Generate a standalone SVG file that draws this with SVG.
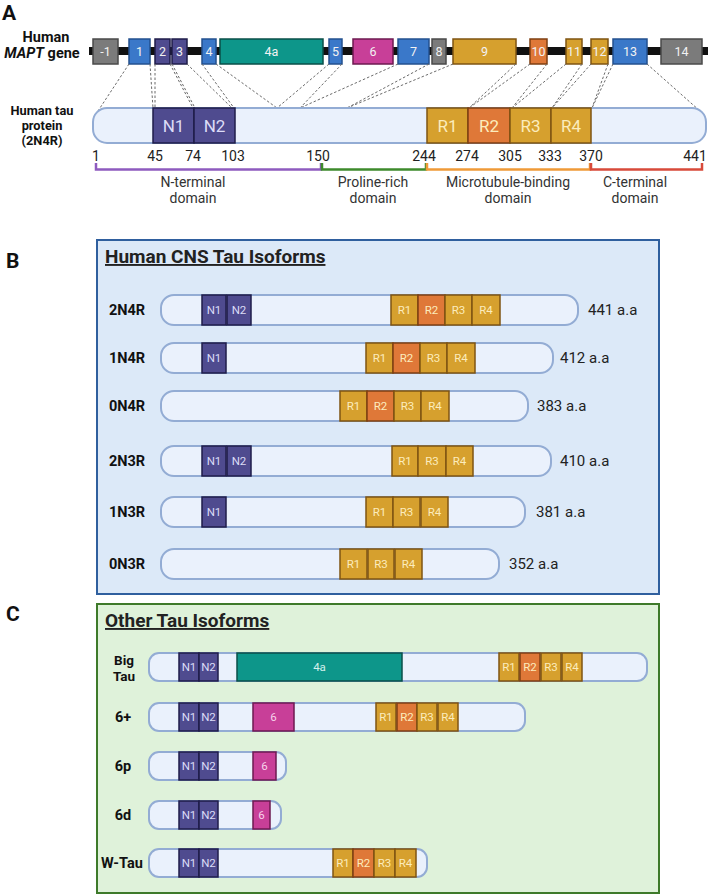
<svg xmlns="http://www.w3.org/2000/svg" width="708" height="895" viewBox="0 0 708 895">
<style>
text{font-family:Roboto,"Liberation Sans",sans-serif;}
.pl{font-weight:bold;font-size:21px;fill:#111;}
.lb{font-weight:bold;font-size:14.5px;fill:#111;}
.lbs{font-weight:bold;font-size:13.5px;fill:#111;text-anchor:middle;}
.lbp{font-weight:bold;font-size:12.8px;fill:#111;text-anchor:middle;}
.num{font-size:14px;fill:#222;text-anchor:middle;}
.dom{font-size:14px;fill:#333;text-anchor:middle;}
.aa{font-size:15px;fill:#222;}
.ttl{font-weight:bold;font-size:19px;fill:#222;text-decoration:underline;}
.bar{fill:#eaf1fc;stroke:#93acd4;stroke-width:2;}
.ex{stroke-width:1.5;}
.gray{fill:#7b7b7b;stroke:#4a4a4a;}
.blue{fill:#3a78c9;stroke:#23508f;}
.purp{fill:#4f4b8f;stroke:#1f1d4a;stroke-width:1.5;}
.teal{fill:#0d968a;stroke:#0a4f48;stroke-width:1.5;}
.mag{fill:#c83f98;stroke:#6e1a50;stroke-width:1.5;}
.gold{fill:#d6a02e;stroke:#7f5412;stroke-width:1.5;}
.orng{fill:#df7838;stroke:#7f3f12;stroke-width:1.5;}
.et{font-size:12.5px;fill:#f2f2f2;text-anchor:middle;dominant-baseline:central;}
.nt{fill:#dcdcf7;text-anchor:middle;dominant-baseline:central;}
.rt{fill:#fcecbc;text-anchor:middle;dominant-baseline:central;}
.s11{font-size:11.5px;}
.s17{font-size:17px;}
.dash{stroke:#6b6b6b;stroke-width:1;stroke-dasharray:2.5 2;fill:none;}
.brk{fill:none;stroke-width:2.5;}
</style>

<!-- Panel A -->
<text class="pl" x="2" y="20">A</text>
<g id="gene-label">
<text class="lb" x="46" y="42" text-anchor="middle">Human</text>
<text class="lb" x="42" y="58" text-anchor="middle"><tspan font-style="italic">MAPT</tspan> gene</text>
</g>
<g id="gene">
<rect x="89" y="47" width="619" height="8" fill="#111"/>
<g id="exon-m1"><rect class="ex gray" x="93" y="39" width="25" height="25"/><text class="et" x="105.5" y="51.5">-1</text></g>
<g id="exon-1"><rect class="ex blue" x="129" y="39" width="21" height="25"/><text class="et" x="139.5" y="51.5">1</text></g>
<g id="exon-2"><rect class="ex purp" x="155" y="39" width="15" height="25"/><text class="et" x="162.5" y="51.5">2</text></g>
<g id="exon-3"><rect class="ex purp" x="172" y="39" width="15" height="25"/><text class="et" x="179.5" y="51.5">3</text></g>
<g id="exon-4"><rect class="ex blue" x="202" y="39" width="14" height="25"/><text class="et" x="209" y="51.5">4</text></g>
<g id="exon-4a"><rect class="ex teal" x="220" y="39" width="103" height="25"/><text class="et" x="271.5" y="51.5">4a</text></g>
<g id="exon-5"><rect class="ex blue" x="329" y="39" width="13" height="25"/><text class="et" x="335.5" y="51.5">5</text></g>
<g id="exon-6"><rect class="ex mag" x="353" y="39" width="40" height="25"/><text class="et" x="373" y="51.5">6</text></g>
<g id="exon-7"><rect class="ex blue" x="398" y="39" width="31" height="25"/><text class="et" x="413.5" y="51.5">7</text></g>
<g id="exon-8"><rect class="ex gray" x="432" y="39" width="14" height="25"/><text class="et" x="439" y="51.5">8</text></g>
<g id="exon-9"><rect class="ex gold" x="453" y="39" width="63" height="25"/><text class="et" x="484.5" y="51.5">9</text></g>
<g id="exon-10"><rect class="ex orng" x="530" y="39" width="17" height="25"/><text class="et" x="538.5" y="51.5">10</text></g>
<g id="exon-11"><rect class="ex gold" x="566" y="39" width="16" height="25"/><text class="et" x="574" y="51.5">11</text></g>
<g id="exon-12"><rect class="ex gold" x="591" y="39" width="17" height="25"/><text class="et" x="599.5" y="51.5">12</text></g>
<g id="exon-13"><rect class="ex blue" x="613" y="39" width="34" height="25"/><text class="et" x="630" y="51.5">13</text></g>
<g id="exon-14"><rect class="ex gray" x="661" y="39" width="41" height="25"/><text class="et" x="681.5" y="51.5">14</text></g>
</g>

<g id="connectors">
<path class="dash" d="M129,64L98,111M150,64L153,108M155,64L155,108M170,64L193,108M172,64L195,108M187,64L232,108M202,64L234,108M216,64L277,108M329,64L277,108M342,64L300,108M398,64L300,108M429,64L347,108M453,64L347,108M516,64L469,108M530,64L469,108M547,64L512,108M566,64L512,108M582,64L552,108M591,64L552,108M608,64L592,108M613,64L592,108M647,64L700,111"/>
<path class="brk" stroke="#8e5bbf" d="M96,163V169.5H321V163"/>
<path class="brk" stroke="#3e8a2c" d="M322,163V169.5H426V163"/>
<path class="brk" stroke="#ef9a38" d="M427,163V169.5H590V163"/>
<path class="brk" stroke="#d84a3a" d="M591,163V169.5H702V163"/>
</g>

<g id="protein-label">
<text class="lbp" x="42" y="115">Human tau</text>
<text class="lbp" x="42" y="130">protein</text>
<text class="lbp" x="42" y="145">(2N4R)</text>
</g>
<g id="protein">
<rect class="bar" x="93" y="108" width="613" height="35" rx="14"/>
<rect class="purp" x="153" y="108" width="41" height="35"/><text class="nt s17" x="173.5" y="126">N1</text>
<rect class="purp" x="194" y="108" width="41" height="35"/><text class="nt s17" x="214.5" y="126">N2</text>
<rect class="gold" x="427" y="108" width="41" height="35"/><text class="rt s17" x="447.5" y="126">R1</text>
<rect class="orng" x="468" y="108" width="42" height="35"/><text class="rt s17" x="489" y="126">R2</text>
<rect class="gold" x="510" y="108" width="41" height="35"/><text class="rt s17" x="530.5" y="126">R3</text>
<rect class="gold" x="551" y="108" width="40" height="35"/><text class="rt s17" x="571" y="126">R4</text>
</g>
<g id="positions">
<text class="num" x="96" y="161">1</text>
<text class="num" x="155" y="161">45</text>
<text class="num" x="193" y="161">74</text>
<text class="num" x="233" y="161">103</text>
<text class="num" x="318" y="161">150</text>
<text class="num" x="424" y="161">244</text>
<text class="num" x="467" y="161">274</text>
<text class="num" x="510" y="161">305</text>
<text class="num" x="550" y="161">333</text>
<text class="num" x="591" y="161">370</text>
<text class="num" x="695" y="161">441</text>
</g>
<g id="domains">
<text class="dom" x="193" y="187">N-terminal</text><text class="dom" x="193" y="203">domain</text>
<text class="dom" x="373" y="187">Proline-rich</text><text class="dom" x="373" y="203">domain</text>
<text class="dom" x="508" y="187">Microtubule-binding</text><text class="dom" x="508" y="203">domain</text>
<text class="dom" x="635" y="187">C-terminal</text><text class="dom" x="635" y="203">domain</text>
</g>

<!-- Panel B -->
<text class="pl" x="6" y="268">B</text>
<g id="panel-b">
<rect x="97" y="240" width="562" height="354" fill="#dce9f8" stroke="#2f5f9e" stroke-width="2"/>
<text class="ttl" x="105" y="263">Human CNS Tau Isoforms</text>
</g>
<g id="iso-2N4R">
<text class="lb" x="109" y="315">2N4R</text>
<rect class="bar" x="161" y="295" width="417" height="30" rx="13"/>
<rect class="purp" x="202" y="295" width="24" height="30"/><text class="nt s11" x="214" y="310">N1</text>
<rect class="purp" x="227" y="295" width="24" height="30"/><text class="nt s11" x="239" y="310">N2</text>
<rect class="gold" x="391" y="295" width="27" height="30"/><text class="rt s11" x="404.5" y="310">R1</text>
<rect class="orng" x="418" y="295" width="27" height="30"/><text class="rt s11" x="431.5" y="310">R2</text>
<rect class="gold" x="445" y="295" width="27" height="30"/><text class="rt s11" x="458.5" y="310">R3</text>
<rect class="gold" x="472" y="295" width="28" height="30"/><text class="rt s11" x="486" y="310">R4</text>
<text class="aa" x="588" y="315">441 a.a</text>
</g>
<g id="iso-1N4R">
<text class="lb" x="109" y="363">1N4R</text>
<rect class="bar" x="161" y="343" width="392" height="30" rx="13"/>
<rect class="purp" x="202" y="343" width="24" height="30"/><text class="nt s11" x="214" y="358">N1</text>
<rect class="gold" x="366" y="343" width="27" height="30"/><text class="rt s11" x="379.5" y="358">R1</text>
<rect class="orng" x="393" y="343" width="27" height="30"/><text class="rt s11" x="406.5" y="358">R2</text>
<rect class="gold" x="420" y="343" width="27" height="30"/><text class="rt s11" x="433.5" y="358">R3</text>
<rect class="gold" x="447" y="343" width="28" height="30"/><text class="rt s11" x="461" y="358">R4</text>
<text class="aa" x="560" y="363">412 a.a</text>
</g>
<g id="iso-0N4R">
<text class="lb" x="109" y="411">0N4R</text>
<rect class="bar" x="161" y="391" width="367" height="30" rx="13"/>
<rect class="gold" x="340" y="391" width="27" height="30"/><text class="rt s11" x="353.5" y="406">R1</text>
<rect class="orng" x="367" y="391" width="27" height="30"/><text class="rt s11" x="380.5" y="406">R2</text>
<rect class="gold" x="394" y="391" width="27" height="30"/><text class="rt s11" x="407.5" y="406">R3</text>
<rect class="gold" x="421" y="391" width="28" height="30"/><text class="rt s11" x="435" y="406">R4</text>
<text class="aa" x="537" y="411">383 a.a</text>
</g>
<g id="iso-2N3R">
<text class="lb" x="109" y="466">2N3R</text>
<rect class="bar" x="161" y="446" width="390" height="30" rx="13"/>
<rect class="purp" x="202" y="446" width="24" height="30"/><text class="nt s11" x="214" y="461">N1</text>
<rect class="purp" x="227" y="446" width="24" height="30"/><text class="nt s11" x="239" y="461">N2</text>
<rect class="gold" x="392" y="446" width="26" height="30"/><text class="rt s11" x="405" y="461">R1</text>
<rect class="gold" x="418" y="446" width="28" height="30"/><text class="rt s11" x="432" y="461">R3</text>
<rect class="gold" x="446" y="446" width="27" height="30"/><text class="rt s11" x="459.5" y="461">R4</text>
<text class="aa" x="560" y="466">410 a.a</text>
</g>
<g id="iso-1N3R">
<text class="lb" x="109" y="517">1N3R</text>
<rect class="bar" x="161" y="497" width="364" height="30" rx="13"/>
<rect class="purp" x="202" y="497" width="24" height="30"/><text class="nt s11" x="214" y="512">N1</text>
<rect class="gold" x="366" y="497" width="27" height="30"/><text class="rt s11" x="379.5" y="512">R1</text>
<rect class="gold" x="393" y="497" width="27" height="30"/><text class="rt s11" x="406.5" y="512">R3</text>
<rect class="gold" x="421" y="497" width="27" height="30"/><text class="rt s11" x="434.5" y="512">R4</text>
<text class="aa" x="536" y="517">381 a.a</text>
</g>
<g id="iso-0N3R">
<text class="lb" x="109" y="569">0N3R</text>
<rect class="bar" x="161" y="549" width="338" height="30" rx="13"/>
<rect class="gold" x="340" y="549" width="27" height="30"/><text class="rt s11" x="353.5" y="564">R1</text>
<rect class="gold" x="368" y="549" width="26" height="30"/><text class="rt s11" x="381" y="564">R3</text>
<rect class="gold" x="395" y="549" width="27" height="30"/><text class="rt s11" x="408.5" y="564">R4</text>
<text class="aa" x="509" y="569">352 a.a</text>
</g>

<!-- Panel C -->
<text class="pl" x="6" y="621">C</text>
<g id="panel-c">
<rect x="97" y="604" width="562" height="289" fill="#dff2da" stroke="#3e7a2a" stroke-width="2"/>
<text class="ttl" x="105" y="627">Other Tau Isoforms</text>
</g>
<g id="iso-bigtau">
<text class="lbs" x="124" y="665">Big</text>
<text class="lbs" x="124" y="681">Tau</text>
<rect class="bar" x="149" y="653" width="498" height="28" rx="10"/>
<rect class="purp" x="179" y="653" width="20" height="28"/><text class="nt s11" x="189" y="667">N1</text>
<rect class="purp" x="199" y="653" width="19" height="28"/><text class="nt s11" x="208.5" y="667">N2</text>
<rect class="teal" x="237" y="653" width="165" height="28"/><text class="s11" x="319.5" y="667" fill="#d4f0ec" text-anchor="middle" dominant-baseline="central">4a</text>
<rect class="gold" x="499" y="653" width="20" height="28"/><text class="rt s11" x="509" y="667">R1</text>
<rect class="orng" x="520" y="653" width="20" height="28"/><text class="rt s11" x="530" y="667">R2</text>
<rect class="gold" x="541" y="653" width="20" height="28"/><text class="rt s11" x="551" y="667">R3</text>
<rect class="gold" x="562" y="653" width="20" height="28"/><text class="rt s11" x="572" y="667">R4</text>
</g>
<g id="iso-6plus">
<text class="lb" x="123" y="722" text-anchor="middle">6+</text>
<rect class="bar" x="149" y="703" width="376" height="28" rx="10"/>
<rect class="purp" x="179" y="703" width="20" height="28"/><text class="nt s11" x="189" y="717">N1</text>
<rect class="purp" x="199" y="703" width="19" height="28"/><text class="nt s11" x="208.5" y="717">N2</text>
<rect class="mag" x="253" y="703" width="41" height="28"/><text class="s11" x="273.5" y="717" fill="#f6d2ea" text-anchor="middle" dominant-baseline="central">6</text>
<rect class="gold" x="376" y="703" width="20" height="28"/><text class="rt s11" x="386" y="717">R1</text>
<rect class="orng" x="397" y="703" width="20" height="28"/><text class="rt s11" x="407" y="717">R2</text>
<rect class="gold" x="417" y="703" width="20" height="28"/><text class="rt s11" x="427" y="717">R3</text>
<rect class="gold" x="438" y="703" width="20" height="28"/><text class="rt s11" x="448" y="717">R4</text>
</g>
<g id="iso-6p">
<text class="lb" x="123" y="771" text-anchor="middle">6p</text>
<rect class="bar" x="149" y="752" width="137" height="28" rx="10"/>
<rect class="purp" x="179" y="752" width="20" height="28"/><text class="nt s11" x="189" y="766">N1</text>
<rect class="purp" x="199" y="752" width="19" height="28"/><text class="nt s11" x="208.5" y="766">N2</text>
<rect class="mag" x="253" y="752" width="23" height="28"/><text class="s11" x="264.5" y="766" fill="#f6d2ea" text-anchor="middle" dominant-baseline="central">6</text>
</g>
<g id="iso-6d">
<text class="lb" x="123" y="820" text-anchor="middle">6d</text>
<rect class="bar" x="149" y="801" width="132" height="28" rx="10"/>
<rect class="purp" x="179" y="801" width="20" height="28"/><text class="nt s11" x="189" y="815">N1</text>
<rect class="purp" x="199" y="801" width="19" height="28"/><text class="nt s11" x="208.5" y="815">N2</text>
<rect class="mag" x="253" y="801" width="17" height="28"/><text class="s11" x="261.5" y="815" fill="#f6d2ea" text-anchor="middle" dominant-baseline="central">6</text>
</g>
<g id="iso-wtau">
<text class="lb" x="122" y="868" text-anchor="middle">W-Tau</text>
<rect class="bar" x="149" y="849" width="278" height="28" rx="10"/>
<rect class="purp" x="179" y="849" width="20" height="28"/><text class="nt s11" x="189" y="863">N1</text>
<rect class="purp" x="199" y="849" width="19" height="28"/><text class="nt s11" x="208.5" y="863">N2</text>
<rect class="gold" x="333" y="849" width="20" height="28"/><text class="rt s11" x="343" y="863">R1</text>
<rect class="orng" x="353" y="849" width="21" height="28"/><text class="rt s11" x="363.5" y="863">R2</text>
<rect class="gold" x="374" y="849" width="21" height="28"/><text class="rt s11" x="384.5" y="863">R3</text>
<rect class="gold" x="395" y="849" width="21" height="28"/><text class="rt s11" x="405.5" y="863">R4</text>
</g>
</svg>
